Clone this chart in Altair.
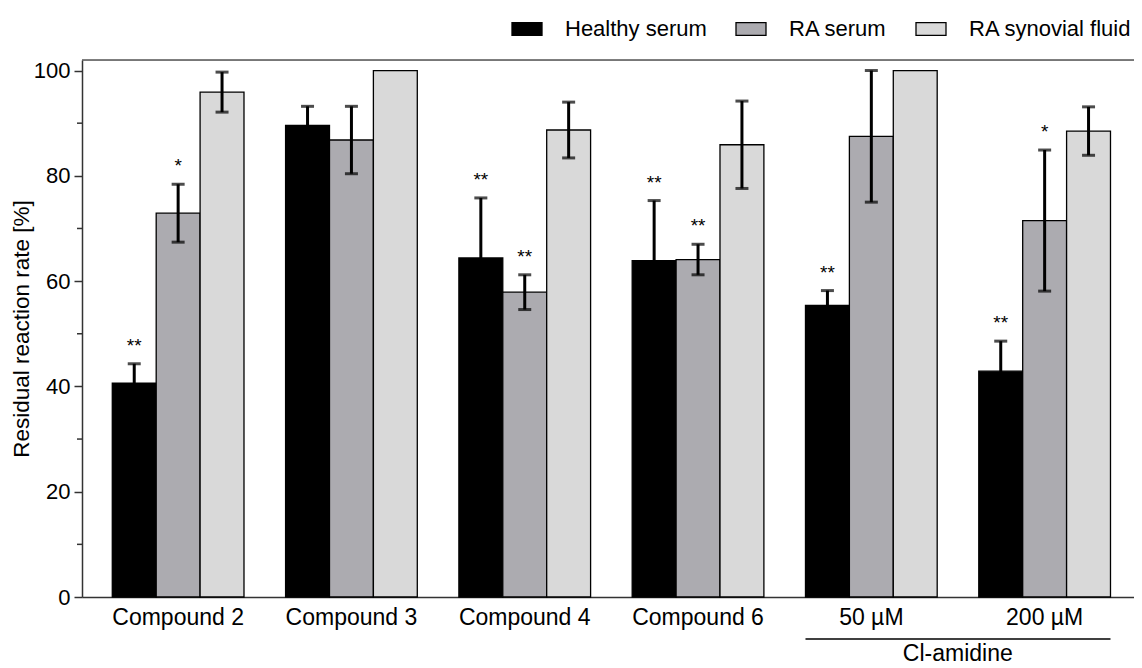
import altair as alt
import pandas as pd

groups = ["Compound 2", "Compound 3", "Compound 4", "Compound 6", "50 µM", "200 µM"]
series = ["Healthy serum", "RA serum", "RA synovial fluid"]
colors = ["#000000", "#acabb0", "#d9d9d9"]

healthy = [40.6, 89.6, 64.4, 63.9, 55.4, 42.9]
healthy_err = [3.7, 3.6, 11.4, 11.4, 2.8, 5.7]
healthy_sig = ["**", "", "**", "**", "**", "**"]

ra_serum = [72.9, 86.8, 57.9, 64.1, 87.5, 71.5]
ra_serum_err = [5.5, 6.4, 3.3, 2.9, 12.5, 13.4]
ra_serum_sig = ["*", "", "**", "**", "", "*"]

synovial = [95.9, 100.0, 88.7, 85.9, 100.0, 88.5]
synovial_err = [3.8, 0.0, 5.3, 8.3, 0.0, 4.6]
synovial_sig = ["", "", "", "", "", ""]

y_major = [0, 20, 40, 60, 80, 100]
y_minor = [10, 30, 50, 70, 90]
y_top = 102

rows = []
for s, vals, errs, sigs in [
    (series[0], healthy, healthy_err, healthy_sig),
    (series[1], ra_serum, ra_serum_err, ra_serum_sig),
    (series[2], synovial, synovial_err, synovial_sig),
]:
    for g, v, e, sg in zip(groups, vals, errs, sigs):
        rows.append({"group": g, "series": s, "value": v, "err": e,
                     "lower": v - e, "upper": v + e, "sig": sg})
df = pd.DataFrame(rows)

FONT = "Liberation Sans"
AX = "#333333"

xscale = alt.Scale(domain=groups, paddingInner=0.24, paddingOuter=0.1552,
                   align=0.563)
X = alt.X("group:N", scale=xscale, sort=groups,
          axis=alt.Axis(title=None, labelAngle=0, ticks=False, tickSize=0,
                        labelPadding=9, labelFontSize=23, labelColor="black",
                        domainColor=AX, domainWidth=1.5, grid=False))
XO = alt.XOffset("series:N", sort=series,
                 scale=alt.Scale(domain=series, paddingInner=0, paddingOuter=0))
yscale = alt.Scale(domain=[0, y_top], nice=False, zero=True)

base = alt.Chart(df)

bars = base.mark_bar(stroke="black", strokeWidth=1.3).encode(
    x=X, xOffset=XO,
    y=alt.Y("value:Q", scale=yscale,
            axis=alt.Axis(values=y_major, title="Residual reaction rate [%]",
                          titleFontSize=22.5, titleFontWeight="normal",
                          titleColor="black", titlePadding=0,
                          labelFontSize=22, labelColor="black", labelPadding=4,
                          tickSize=8, tickWidth=1.5, tickColor=AX,
                          domainColor=AX, domainWidth=1.5, grid=False)),
    fill=alt.Fill("series:N", sort=series,
                  scale=alt.Scale(domain=series, range=colors),
                  legend=alt.Legend(title=None)),
)

eb = base.transform_filter("datum.err > 0")
err_rule = eb.mark_rule(color="black", strokeWidth=3).encode(
    x=X, xOffset=XO, y=alt.Y("lower:Q", scale=yscale), y2="upper:Q")
cap_top = eb.mark_tick(color="black", thickness=3, size=13).encode(
    x=X, xOffset=XO, y=alt.Y("upper:Q", scale=yscale))
cap_bot = eb.mark_tick(color="black", thickness=3, size=13).encode(
    x=X, xOffset=XO, y=alt.Y("lower:Q", scale=yscale))

sig = base.transform_filter("datum.sig != ''").mark_text(
    fontSize=19, font=FONT, color="black", baseline="alphabetic", dy=-12).encode(
    x=X, xOffset=XO, y=alt.Y("upper:Q", scale=yscale), text="sig:N")

top_line = alt.Chart(pd.DataFrame({"y": [y_top]})).mark_rule(
    color="#555555", strokeWidth=1.5).encode(y=alt.Y("y:Q", scale=yscale))

minor = alt.Chart(pd.DataFrame({"v": y_minor})).mark_rule(
    color=AX, strokeWidth=1.5).encode(
    y=alt.Y("v:Q", scale=yscale), x=alt.value(-5), x2=alt.value(0))

one = pd.DataFrame({"a": [0]})
underline = alt.Chart(one).mark_rule(color="black", strokeWidth=1.5).encode(
    x=alt.XDatum("50 µM", type="nominal", bandPosition=0, scale=xscale),
    x2=alt.X2Datum("200 µM", bandPosition=1),
    y=alt.value(579))
cl_text = alt.Chart(one).mark_text(
    fontSize=23, font=FONT, color="black", baseline="alphabetic", dx=20.6).encode(
    x=alt.XDatum("50 µM", type="nominal", bandPosition=1, scale=xscale),
    y=alt.value(601), text=alt.value("Cl-amidine"))

chart = alt.layer(bars, err_rule, cap_top, cap_bot, sig, top_line, minor,
                  underline, cl_text).properties(
    width=1052, height=537,
    autosize=alt.AutoSizeParams(type="none"),
    padding={"left": 74, "top": 52, "right": 0, "bottom": 70},
).configure_view(stroke=None).configure(
    font=FONT
).configure_legend(
    orient="none", legendX=429, legendY=-47, direction="horizontal",
    labelFontSize=22, labelColor="black", labelFont=FONT, labelLimit=400,
    symbolType="M-1,-0.43H1V0.43H-1Z", symbolSize=900,
    symbolStrokeColor="black", symbolStrokeWidth=1.3, symbolOpacity=1,
    labelOffset=22, columnPadding=26,
)

chart.save("out.html", embed_options={"renderer": "svg", "actions": False})
